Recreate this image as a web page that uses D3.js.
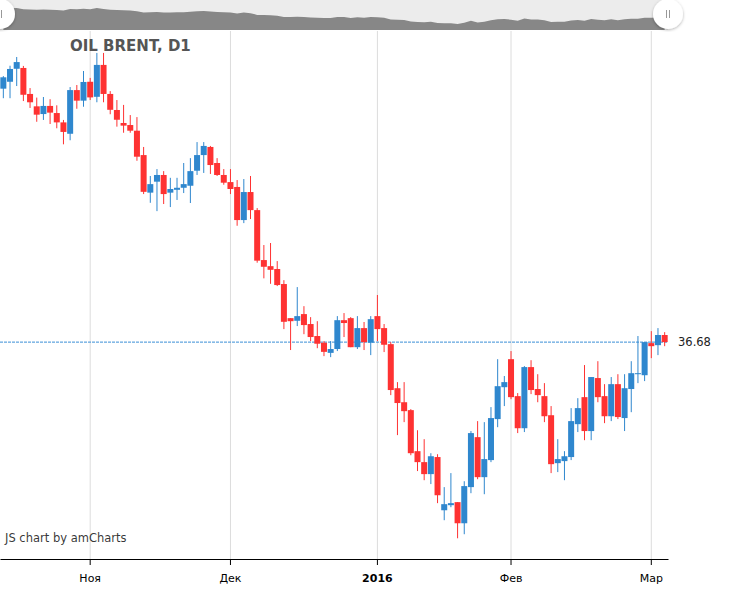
<!DOCTYPE html>
<html>
<head>
<meta charset="utf-8">
<script src="https://cdn.jsdelivr.net/npm/d3@7/dist/d3.min.js"></script>
<style>
  body { margin: 0; background: #fff; }
  #chart { width: 729px; height: 590px; }
</style>
</head>
<body>
<div id="chart"></div>
<script>
// trading days shown on the chart
const dates = [
  '2015-10-14','2015-10-15','2015-10-16','2015-10-19','2015-10-20','2015-10-21','2015-10-22','2015-10-23','2015-10-26','2015-10-27',
  '2015-10-28','2015-10-29','2015-10-30','2015-11-02','2015-11-03','2015-11-04','2015-11-05','2015-11-06','2015-11-09','2015-11-10',
  '2015-11-11','2015-11-12','2015-11-13','2015-11-16','2015-11-17','2015-11-18','2015-11-19','2015-11-20','2015-11-23','2015-11-24',
  '2015-11-25','2015-11-26','2015-11-27','2015-11-30','2015-12-01','2015-12-02','2015-12-03','2015-12-04','2015-12-07','2015-12-08',
  '2015-12-09','2015-12-10','2015-12-11','2015-12-14','2015-12-15','2015-12-16','2015-12-17','2015-12-18','2015-12-21','2015-12-22',
  '2015-12-23','2015-12-24','2015-12-28','2015-12-29','2015-12-30','2015-12-31','2016-01-04','2016-01-05','2016-01-06','2016-01-07',
  '2016-01-08','2016-01-11','2016-01-12','2016-01-13','2016-01-14','2016-01-15','2016-01-18','2016-01-19','2016-01-20','2016-01-21',
  '2016-01-22','2016-01-25','2016-01-26','2016-01-27','2016-01-28','2016-01-29','2016-02-01','2016-02-02','2016-02-03','2016-02-04',
  '2016-02-05','2016-02-08','2016-02-09','2016-02-10','2016-02-11','2016-02-12','2016-02-15','2016-02-16','2016-02-17','2016-02-18',
  '2016-02-19','2016-02-22','2016-02-23','2016-02-24','2016-02-25','2016-02-26','2016-02-29','2016-03-01','2016-03-02','2016-03-03'
];

// OHLC series
const open = [
  49.16,49.50,50.14,50.18,48.90,48.29,47.91,48.31,47.96,47.50,
  46.94,49.09,48.57,49.50,48.76,50.33,48.90,48.11,47.47,47.37,
  47.09,45.89,44.04,44.58,44.91,44.04,44.18,44.28,44.38,45.12,
  45.89,46.29,45.50,44.91,44.56,44.32,42.69,44.07,43.18,40.72,
  40.42,40.28,39.54,37.86,37.73,38.06,37.57,36.98,36.65,36.15,
  36.34,37.76,37.86,36.43,37.37,36.65,37.96,37.37,36.58,34.41,
  33.72,33.33,31.31,30.77,30.18,31.02,28.40,28.65,28.80,27.76,
  29.54,32.00,30.03,30.87,32.89,34.46,35.84,34.02,32.44,35.45,
  34.37,34.02,33.08,30.72,30.82,31.02,32.64,33.97,32.30,34.91,
  34.02,33.03,34.61,32.94,34.37,35.10,35.05,36.63,36.53,37.03
];
const high = [
  49.78,50.29,50.72,50.28,49.19,48.72,48.75,48.64,48.34,47.62,
  49.24,49.34,50.03,49.69,50.92,50.92,49.04,48.60,48.36,47.86,
  47.76,46.29,44.86,45.20,45.10,44.77,44.77,45.50,45.74,46.53,
  46.53,46.34,45.74,45.20,45.20,44.66,44.71,44.86,43.28,41.46,
  41.56,40.67,39.73,37.86,39.39,38.45,37.91,37.71,36.73,36.73,
  37.96,38.11,37.91,37.96,37.67,37.96,39.00,37.57,36.68,34.71,
  34.71,33.38,32.34,31.90,31.21,31.16,29.54,30.23,28.80,29.83,
  32.30,32.79,32.74,33.48,35.84,35.01,36.24,34.17,35.50,35.79,
  35.10,34.66,33.53,31.90,31.31,33.43,33.92,35.55,34.96,35.74,
  34.61,34.96,35.10,35.10,35.74,36.98,36.68,37.22,37.37,37.17
];
const low = [
  48.69,48.69,49.29,48.55,48.21,47.53,47.62,47.42,47.21,46.42,
  46.62,48.17,48.27,48.60,48.49,48.49,47.90,47.29,46.99,46.99,
  45.61,43.97,43.54,43.13,43.48,43.33,43.68,44.02,43.53,44.91,
  45.01,44.96,44.86,44.43,43.97,42.41,42.54,42.74,40.59,39.82,
  39.55,39.44,37.32,36.29,37.47,37.07,36.73,36.38,35.99,35.94,
  36.24,36.93,36.43,36.34,36.29,36.04,36.73,36.19,34.07,32.10,
  32.74,31.11,30.33,29.88,29.69,28.75,27.91,28.55,27.02,27.22,
  29.24,29.93,29.19,30.77,32.49,33.53,33.87,32.20,32.25,34.12,
  33.72,32.74,30.23,30.28,29.88,30.87,32.25,31.85,31.85,33.72,
  32.69,32.79,32.89,32.30,33.23,34.66,34.76,35.89,36.04,36.48
];
const close = [
  49.72,50.13,50.47,48.86,48.49,47.88,48.31,47.98,47.50,47.03,
  49.09,48.57,49.49,48.73,50.33,48.90,48.12,47.63,47.34,47.09,
  45.81,44.08,44.46,44.91,43.97,44.22,44.28,44.46,45.10,45.89,
  46.34,45.40,44.91,44.53,44.22,42.69,44.07,43.18,40.69,40.39,
  40.24,39.49,37.68,37.71,37.96,37.52,36.93,36.60,36.20,36.34,
  37.76,37.62,36.43,37.37,36.68,37.81,37.32,36.55,34.32,33.68,
  33.28,31.21,30.77,30.18,31.06,29.14,28.70,28.75,27.76,29.59,
  32.20,30.03,30.92,32.94,34.51,34.71,33.97,32.44,35.45,34.32,
  34.07,33.03,30.67,30.92,31.06,32.79,33.43,32.30,34.96,33.97,
  33.03,34.61,32.99,34.41,35.15,35.15,36.68,36.48,37.03,36.68
];

// axis ticks
const tickDates = ['2015-11-02','2015-12-01','2016-01-04','2016-02-01','2016-03-01'];
const tickLabels = ['Ноя','Дек','2016','Фев','Мар'];
const boldLabels = ['2016'];

const title = 'OIL BRENT, D1';
const lastPrice = close[close.length - 1];

const root = document.getElementById('chart');
const width = root.clientWidth;
const height = root.clientHeight;
const plot = {l: 0, r: 668, t: 31, b: 559};
const font = 'Verdana, "DejaVu Sans", sans-serif';
const upColor = '#2f87ce';
const downColor = '#fe3232';

const data = dates.map((d, i) => ({date: d, o: open[i], h: high[i], l: low[i], c: close[i]}));

const svg = d3.select(root)
    .append('svg')
    .attr('width', width)
    .attr('height', height)
    .style('font-family', font);

const scaleX = d3.scaleBand()
    .domain(dates)
    .range([plot.l, plot.r])
    .paddingInner(0.1)
    .paddingOuter(0.05);
const cx = d => scaleX(d) + scaleX.bandwidth() / 2;

const scaleY = d3.scaleLinear().domain([26, 52]).range([plot.b, plot.t]);

// ---- scrollbar ----
const sb = svg.append('g');
sb.append('rect')
    .attr('x', 0).attr('y', 0)
    .attr('width', plot.r).attr('height', 30)
    .attr('fill', '#ececec');

const sbY = d3.scaleLinear().domain(d3.extent(close)).range([24, 8]);
const sbArea = d3.area()
    .x(d => cx(d.date))
    .y0(30)
    .y1(d => sbY(d.c));
sb.append('path')
    .datum(data)
    .attr('fill', '#878787')
    .attr('d', sbArea);

const defs = svg.append('defs');
defs.append('filter').attr('id', 'shadow')
    .append('feDropShadow')
    .attr('dx', 0).attr('dy', 1).attr('stdDeviation', 1.5)
    .attr('flood-color', '#000').attr('flood-opacity', 0.3);

[0, plot.r].forEach(hx => {
    const h = sb.append('g').attr('transform', `translate(${hx},14)`);
    h.append('circle').attr('r', 15).attr('fill', '#fff').attr('filter', 'url(#shadow)');
    [-1.5, 1.5].forEach(dx => {
        h.append('line')
            .attr('x1', dx).attr('x2', dx).attr('y1', -4).attr('y2', 4)
            .attr('stroke', '#999').attr('stroke-width', 1);
    });
});

// ---- grid ----
svg.append('g')
    .selectAll('line')
    .data(tickDates)
    .join('line')
    .attr('x1', d => cx(d)).attr('x2', d => cx(d))
    .attr('y1', plot.t).attr('y2', plot.b)
    .attr('stroke', '#dcdcdc')
    .attr('stroke-width', 1);

// ---- last price line (under the candles) ----
svg.append('line')
    .attr('x1', plot.l).attr('x2', plot.r)
    .attr('y1', scaleY(lastPrice)).attr('y2', scaleY(lastPrice))
    .attr('stroke', '#3a8ed6')
    .attr('stroke-width', 1)
    .attr('stroke-dasharray', '3,1');

// ---- candles ----
const candles = svg.append('g')
    .selectAll('g')
    .data(data)
    .join('g')
    .attr('fill', d => d.c >= d.o ? upColor : downColor)
    .attr('stroke', d => d.c >= d.o ? upColor : downColor);

candles.append('line')
    .attr('x1', d => cx(d.date)).attr('x2', d => cx(d.date))
    .attr('y1', d => scaleY(d.h)).attr('y2', d => scaleY(d.l))
    .attr('stroke-width', 1);

candles.append('rect')
    .attr('x', d => scaleX(d.date))
    .attr('width', scaleX.bandwidth())
    .attr('y', d => scaleY(Math.max(d.o, d.c)))
    .attr('height', d => Math.max(1, Math.abs(scaleY(d.o) - scaleY(d.c))))
    .attr('stroke', 'none');

svg.append('text')
    .attr('x', 678)
    .attr('y', scaleY(lastPrice) + 4)
    .attr('font-size', 11.5)
    .attr('fill', '#222')
    .text(lastPrice.toFixed(2));

// ---- x axis ----
const axis = svg.append('g')
    .attr('transform', `translate(0,${plot.b})`)
    .call(d3.axisBottom(scaleX)
        .tickValues(tickDates)
        .tickFormat((d, i) => tickLabels[i])
        .tickSize(6)
        .tickSizeOuter(0)
        .tickPadding(9));
axis.select('.domain').attr('stroke', '#000').attr('stroke-width', 1.2);
axis.selectAll('.tick line').attr('stroke', '#000');
axis.selectAll('.tick text')
    .attr('font-family', font)
    .attr('font-size', 11)
    .attr('fill', '#000')
    .attr('font-weight', d => boldLabels.includes(tickLabels[tickDates.indexOf(d)]) ? 'bold' : 'normal');

// ---- title & credit ----
svg.append('text')
    .attr('x', 70).attr('y', 51)
    .attr('font-size', 15)
    .attr('font-weight', 'bold')
    .attr('fill', '#555')
    .text(title);

svg.append('text')
    .attr('x', 5).attr('y', 542)
    .attr('font-size', 11.5)
    .attr('fill', '#000')
    .attr('fill-opacity', 0.8)
    .text('JS chart by amCharts');
</script>
</body>
</html>
